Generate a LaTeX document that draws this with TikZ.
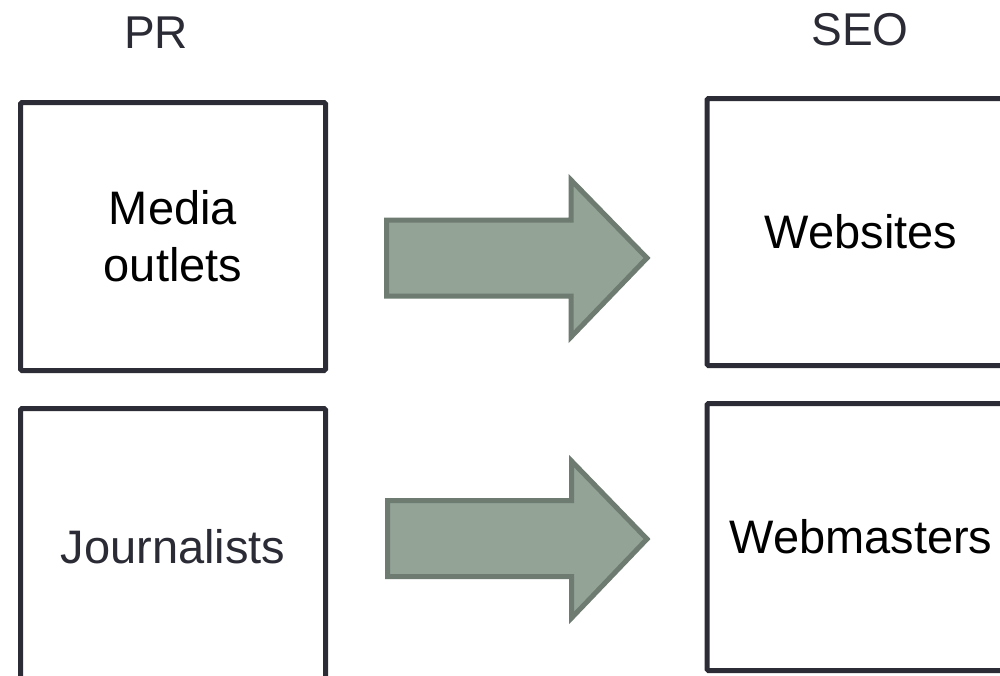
\documentclass[tikz,border=0pt]{standalone}
\usepackage{fontspec}
\setmainfont{Liberation Sans}
\definecolor{boxline}{HTML}{2C2C36}
\definecolor{arrowfill}{HTML}{93A396}
\definecolor{arrowline}{HTML}{6E7B70}
\definecolor{darktext}{HTML}{2B2B35}
\begin{document}
\begin{tikzpicture}[x=1pt,y=-1pt,
  box/.style={draw=boxline, line width=5pt, rounded corners=1.5pt, fill=white, inner sep=0pt, align=center, font=\fontsize{47}{57}\selectfont},
  bigarrow/.style={fill=arrowfill, draw=arrowline, line width=5pt, line join=miter},
  heading/.style={anchor=base, text=darktext, font=\fontsize{46}{55}\selectfont, inner sep=0pt}]
\useasboundingbox (0,0) rectangle (1000,675);
\clip (0,0) rectangle (1000,675);
\fill[white] (0,0) rectangle (1000,675);
% headings
\node[heading] (pr) at (156,48) {PR};
\node[heading] (seo) at (860,45) {SEO};
% boxes
\node[box, minimum width=305pt, minimum height=268pt] (media) at (173,236.5) {Media\\outlets};
\node[box, text=darktext, minimum width=305pt, minimum height=277pt] (journ) at (173,547) {Journalists};
\node[box, minimum width=308pt, minimum height=267pt] (web) at (861,232) {Websites};
\node[box, minimum width=308pt, minimum height=267pt] (wm) at (861,537) {Webmasters};
% block arrows
\draw[bigarrow] (386.5,220) -- (571,220) -- (571,180) -- (647,258) -- (571,337) -- (571,296) -- (386.5,296) -- cycle;
\draw[bigarrow] (387.5,500.5) -- (571.5,500.5) -- (571.5,461) -- (647,539) -- (571.5,618) -- (571.5,576.5) -- (387.5,576.5) -- cycle;
\end{tikzpicture}
\end{document}
